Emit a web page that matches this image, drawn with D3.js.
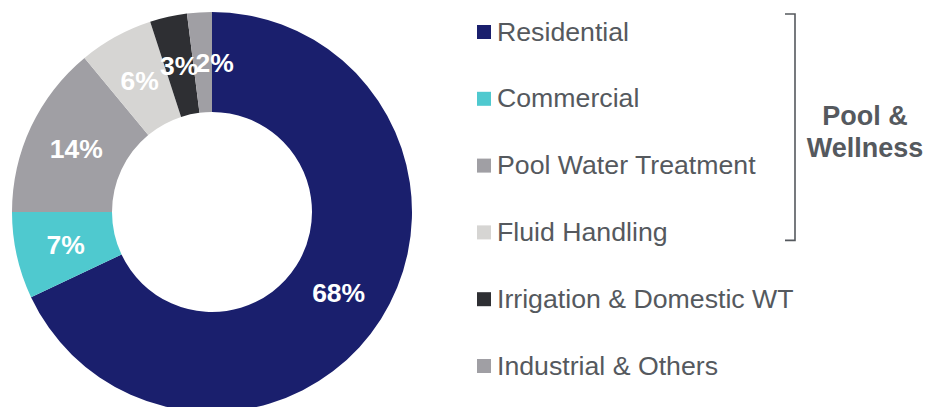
<!DOCTYPE html>
<html>
<head>
<meta charset="utf-8">
<script src="https://cdn.jsdelivr.net/npm/d3@7"></script>
<style>
  body { margin: 0; background: #fff; }
  svg { display: block; font-family: "Liberation Sans", Arial, sans-serif; }
</style>
</head>
<body>
<svg width="925" height="407"></svg>
<script>
// segment data, clockwise from 12 o'clock
var segments = ["Residential", "Commercial", "Pool Water Treatment", "Fluid Handling", "Irrigation & Domestic WT", "Industrial & Others"];
var shares = [68, 7, 14, 6, 3, 2];
var colours = ["#1a1f6d", "#4fc9cf", "#a09fa4", "#d6d5d3", "#2e2f33", "#a09fa4"];
var groupLabel = ["Pool &", "Wellness"];
var groupCount = 4; // first four segments belong to the bracket

var svg = d3.select("svg");

var cx = 212, cy = 212,
    outerR = 200, innerR = 100;

var pie = d3.pie().sort(null).value(function(d) { return d.v; });
var arc = d3.arc().innerRadius(innerR).outerRadius(outerR);
var labelArc = d3.arc().innerRadius(150).outerRadius(150);

var data = segments.map(function(s, i) { return {name: s, v: shares[i], c: colours[i]}; });
var arcs = pie(data);

var g = svg.append("g").attr("transform", "translate(" + cx + "," + cy + ")");

g.selectAll("path")
    .data(arcs)
    .enter().append("path")
    .attr("d", arc)
    .attr("fill", function(d) { return d.data.c; });

g.selectAll("text")
    .data(arcs)
    .enter().append("text")
    .attr("transform", function(d, i) {
        var p = labelArc.centroid(d);
        // the smallest slice's label sits a bit to the right in the original
        if (i === arcs.length - 1) p[0] += 12;
        return "translate(" + p[0] + "," + p[1] + ")";
    })
    .attr("text-anchor", "middle")
    .attr("dy", "0.36em")
    .attr("fill", "#fff")
    .attr("font-weight", "bold")
    .attr("font-size", 26.5)
    .text(function(d) { return d.data.v + "%"; });

// legend
var rowY = d3.scalePoint().domain(segments).range([32, 366]);

var legend = svg.append("g")
    .selectAll("g")
    .data(data)
    .enter().append("g")
    .attr("transform", function(d) { return "translate(477," + rowY(d.name) + ")"; });

legend.append("rect")
    .attr("x", 0)
    .attr("y", -7)
    .attr("width", 14)
    .attr("height", 14)
    .attr("fill", function(d) { return d.c; });

legend.append("text")
    .attr("x", 20)
    .attr("y", 8.5)
    .attr("font-size", 26.7)
    .attr("fill", "#55595e")
    .text(function(d) { return d.name; });

// bracket around the Pool & Wellness rows
var bx = 795,
    bTop = rowY(segments[0]) - 18,
    bBot = rowY(segments[groupCount - 1]) + 8;

svg.append("path")
    .attr("d", "M" + (bx - 10) + "," + bTop + "H" + bx + "V" + bBot + "H" + (bx - 10))
    .attr("fill", "none")
    .attr("stroke", "#55595e")
    .attr("stroke-width", 1.6);

svg.append("g")
    .selectAll("text")
    .data(groupLabel)
    .enter().append("text")
    .attr("x", 865)
    .attr("y", function(d, i) { return 125 + i * 32; })
    .attr("text-anchor", "middle")
    .attr("font-weight", "bold")
    .attr("font-size", 27)
    .attr("fill", "#55595e")
    .text(function(d) { return d; });
</script>
</body>
</html>
